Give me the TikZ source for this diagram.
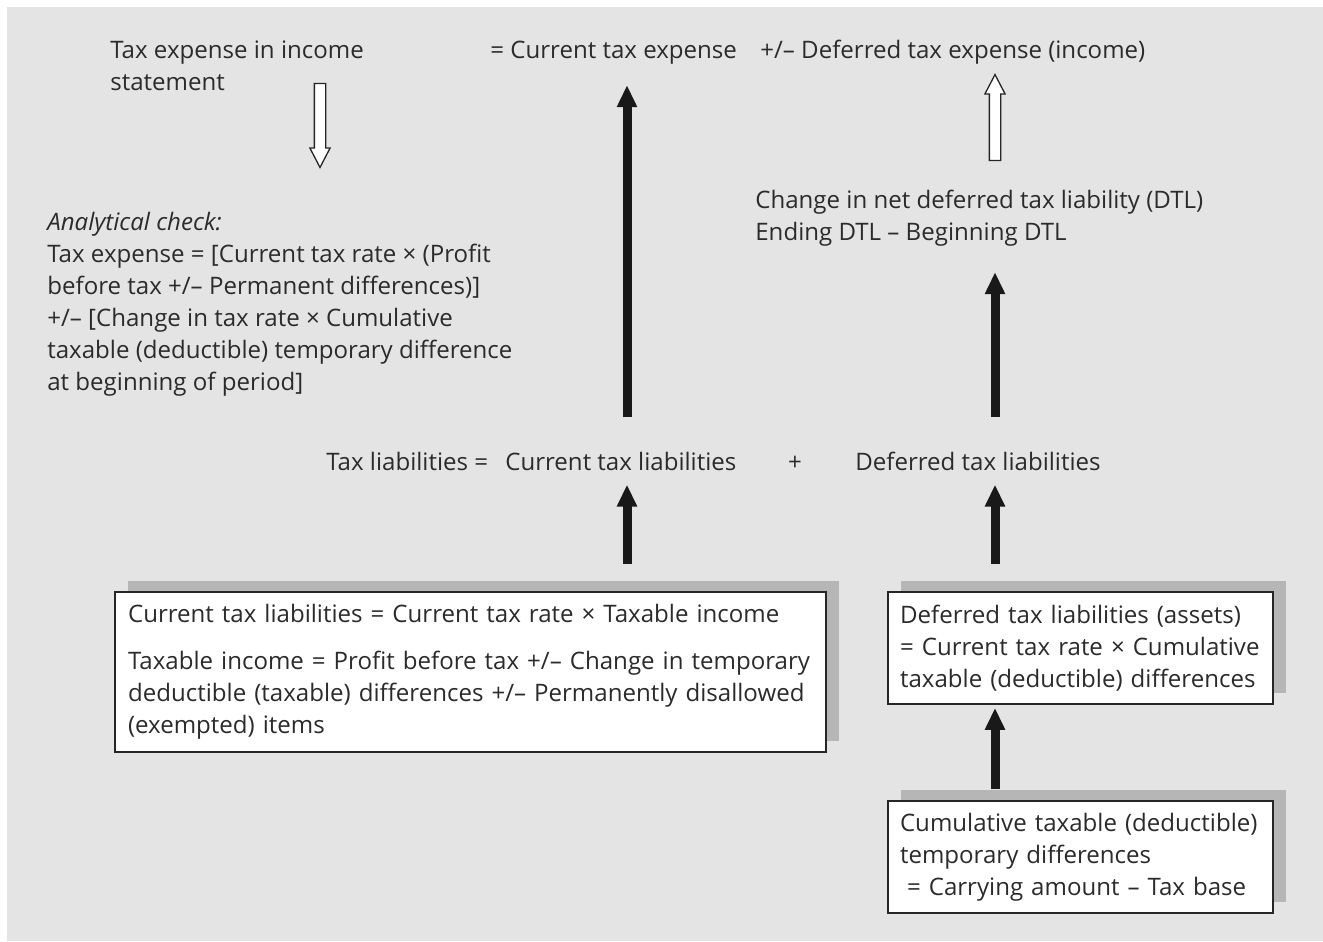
\documentclass[tikz,border=0pt]{standalone}
\usepackage{fontspec}
\setmainfont{Open Sans}
\usetikzlibrary{arrows.meta,shapes.arrows,shadows}

\definecolor{bggray}{HTML}{E4E4E4}
\definecolor{shadegray}{HTML}{B6B6B6}
\definecolor{inkgray}{HTML}{2B2B2B}

\tikzset{
  lbl/.style={anchor=base west,inner sep=0,align=left,text=inkgray,font=\fontsize{13.7}{18.2}\selectfont},
  box/.style={draw=black!85,line width=0.035cm,fill=white,align=left,text=inkgray,
    font=\fontsize{13.7}{18.2}\selectfont,inner ysep=0,
    general shadow={fill=shadegray,shadow xshift=0.26cm,shadow yshift=0.22cm}},
  fatarrow/.style={draw=black!90,line width=0.18cm,-{Triangle[length=0.44cm,width=0.38cm]}},
  hollowarrow/.style={shape=single arrow,draw=black!85,fill=white,line width=0.026cm,
    inner xsep=0,inner ysep=0.1cm,single arrow head extend=0.09cm,
    single arrow tip angle=55,single arrow head indent=0}
}

\begin{document}
\begin{tikzpicture}[x=0.02cm,y=-0.02cm]
\useasboundingbox (0,0) rectangle (1323,941);
\fill[bggray] (7,7) rectangle (1323,941);

\coordinate (colA) at (627,0);
\coordinate (colB) at (995,0);

% top row: income statement (multi-line labels sit on their last baseline)
\node[lbl] (taxexp) at (110,90) {Tax expense in income\\statement};
\node[lbl] (curexp) at (490,58) {= Current tax expense};
\node[lbl] (defexp) at (760,58) {+/-- Deferred tax expense (income)};

\node[lbl] (dtlchg) at (755,240) {Change in net deferred tax liability (DTL)\\Ending DTL -- Beginning DTL};

\node[lbl] (check) at (47,390) {\textit{Analytical check:}\\
Tax expense = [Current tax rate × (Profit\\
before tax +/-- Permanent differences)]\\
+/-- [Change in tax rate × Cumulative\\
taxable (deductible) temporary difference\\
at beginning of period]};

% balance sheet row
\node[lbl] (taxliab) at (326,470) {Tax liabilities =};
\node[lbl] (curliab) at (505,470) {Current tax liabilities};
\node[lbl,anchor=base] (plus) at (795,470) {+};
\node[lbl] (defliab) at (855,470) {Deferred tax liabilities};

% boxes
\node[box,minimum width=14.22cm,minimum height=3.2cm,text width=13.7cm,inner xsep=0.26cm] (curbox) at (470.5,672)
  {Current tax liabilities = Current tax rate × Taxable income\\[0.3cm]
   Taxable income = Profit before tax +/-- Change in temporary\\
   deductible (taxable) differences +/-- Permanently disallowed\\
   (exempted) items};
\node[box,minimum width=7.7cm,minimum height=2.24cm,text width=7.22cm,inner xsep=0.24cm] (dtlbox) at (1080.5,648)
  {Deferred tax liabilities (assets)\\
   = Current tax rate × Cumulative\\
   taxable (deductible) differences};
\node[box,minimum width=7.7cm,minimum height=2.24cm,text width=7.22cm,inner xsep=0.24cm] (cumbox) at (1080.5,857)
  {Cumulative taxable (deductible)\\
   temporary differences\\
   \hspace*{0.14cm}= Carrying amount -- Tax base};

% hollow arrows
\node[hollowarrow,minimum height=1.68cm,rotate=-90] (downarr) at (320,120) {};
\node[hollowarrow,minimum height=1.72cm,rotate=90] (uparr) at (995,123) {};

% solid arrows
\draw[fatarrow,shorten <=0.68cm,shorten >=0.42cm] (curliab.north -| colA) -- (curexp.south -| colA);
\draw[fatarrow,shorten <=0.68cm,shorten >=0.52cm] (defliab.north -| colB) -- (dtlchg.south -| colB);
\draw[fatarrow,shorten <=0.54cm,shorten >=0.28cm] (curbox.north -| colA) -- (curliab.south -| colA);
\draw[fatarrow,shorten <=0.54cm,shorten >=0.28cm] (dtlbox.north -| colB) -- (defliab.south -| colB);
\draw[fatarrow,shorten <=0.22cm,shorten >=0.06cm] (cumbox.north -| colB) -- (dtlbox.south -| colB);
\end{tikzpicture}
\end{document}
